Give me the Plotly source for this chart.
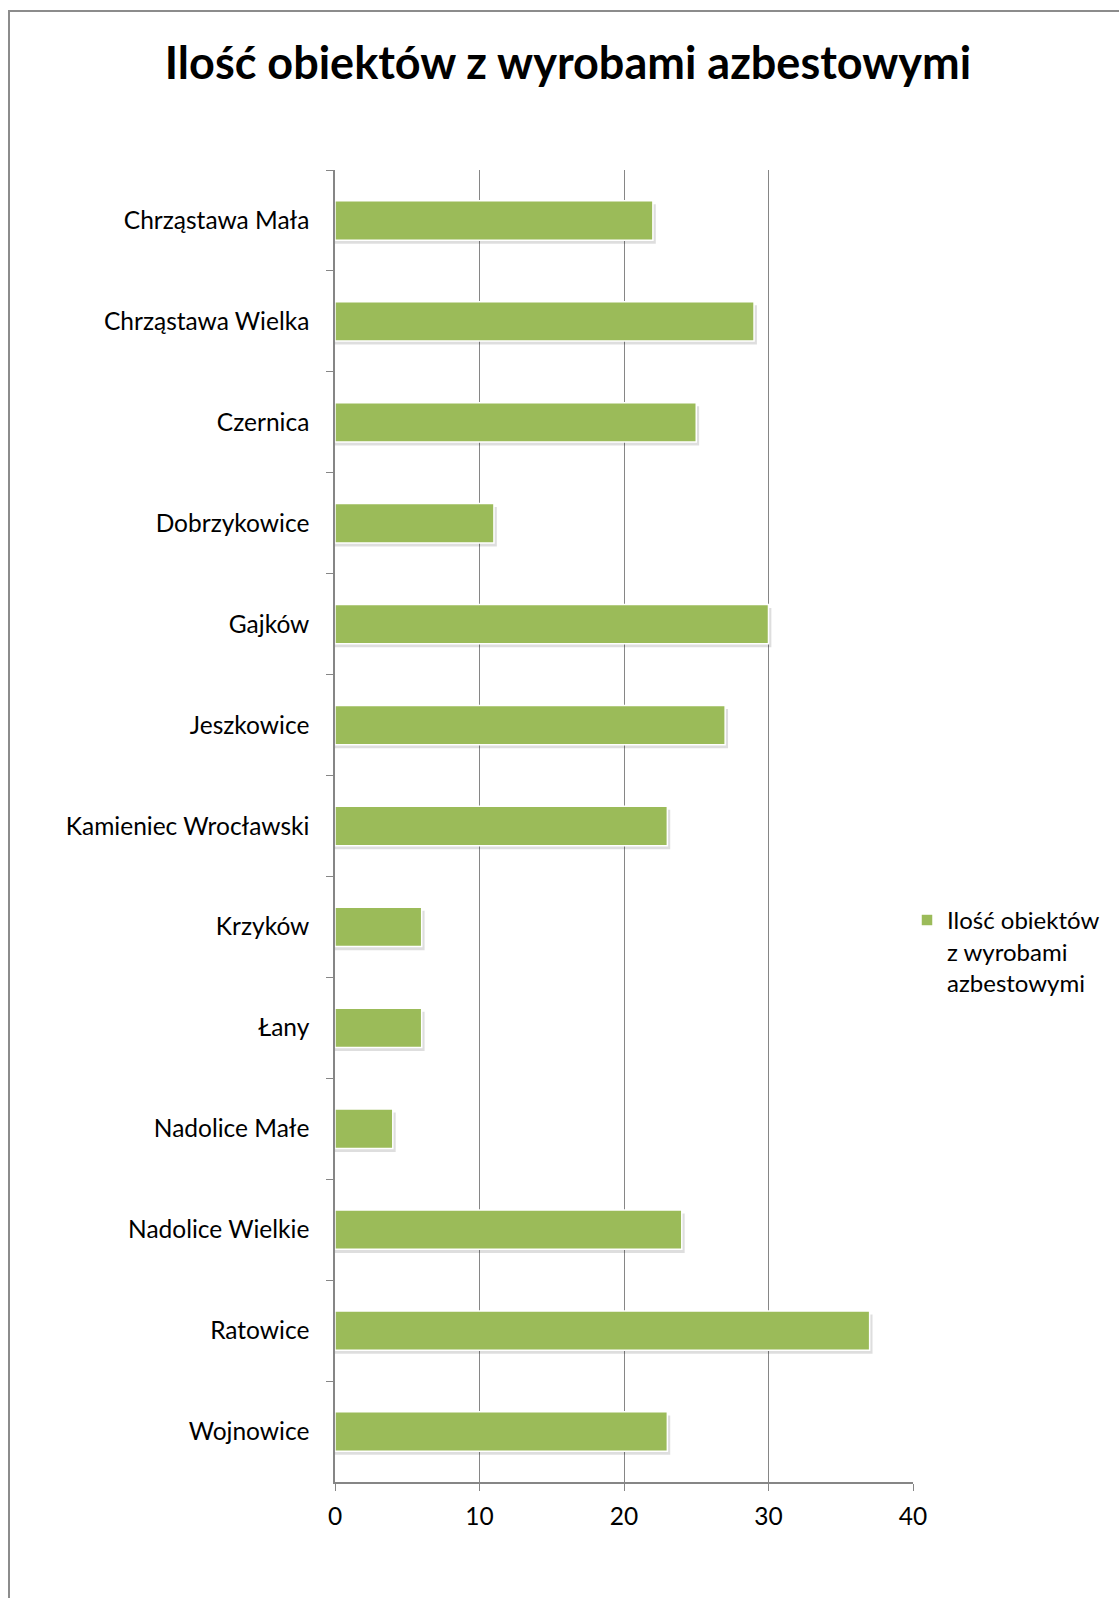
import plotly.graph_objects as go

categories = ["Chrząstawa Mała", "Chrząstawa Wielka", "Czernica", "Dobrzykowice",
              "Gajków", "Jeszkowice", "Kamieniec Wrocławski", "Krzyków", "Łany",
              "Nadolice Małe", "Nadolice Wielkie", "Ratowice", "Wojnowice"]
values = [22, 29, 25, 11, 30, 27, 23, 6, 6, 4, 24, 37, 23]
series_name = "Ilość obiektów<br>z wyrobami<br>azbestowymi"
title_text = "Ilość obiektów z wyrobami azbestowymi"
x_ticks = [0, 10, 20, 30, 40]

W, H = 1119, 1598
L, R, T, B = 335, 913, 170, 1482
pw, ph = R - L, B - T

FONT = "Lato"
GRAY = "#868686"
BAR_W = 0.39
FS = 24.5

fig = go.Figure()
# soft shadow under the bars
fig.add_trace(go.Bar(
    y=categories, x=[v + 0.2 for v in values], orientation="h",
    marker=dict(color="rgba(0,0,0,0.13)", line=dict(width=0)),
    width=BAR_W, offset=-BAR_W / 2 + 0.035, showlegend=False, hoverinfo="skip",
))
fig.add_trace(go.Bar(
    y=categories, x=values, orientation="h", name=series_name,
    marker=dict(color="#9BBB59", line=dict(color="white", width=1.5)),
    width=BAR_W, offset=-BAR_W / 2, showlegend=True,
))

def px(x):
    return (x - L) / pw

def py(y):
    return (B - y) / ph

fig.update_layout(
    width=W, height=H, barmode="overlay",
    margin=dict(l=L, r=W - R, t=T, b=H - B),
    paper_bgcolor="white", plot_bgcolor="white",
    font=dict(family=FONT, size=FS, color="black"),
    title=dict(text="<b>" + title_text + "</b>", x=568 / W, xanchor="center",
               y=1 - 63 / H, yanchor="middle",
               font=dict(family=FONT, size=45, color="black")),
    xaxis=dict(range=[0, 40], tickvals=x_ticks, showgrid=True, gridcolor=GRAY,
               gridwidth=1, showline=True, linecolor=GRAY, linewidth=1.5,
               ticks="outside", ticklen=7, tickcolor=GRAY, zeroline=False,
               tickfont=dict(family=FONT, size=FS), ticklabelstandoff=5),
    yaxis=dict(categoryorder="array", categoryarray=categories, autorange="reversed",
               showline=True, linecolor=GRAY, linewidth=1.5, ticks="outside",
               tickson="boundaries", ticklen=7, tickcolor=GRAY, showgrid=False,
               tickfont=dict(family=FONT, size=FS), ticklabelstandoff=19),
    legend=dict(x=px(907), y=py(898), xanchor="left", yanchor="top",
                valign="top", font=dict(family=FONT, size=24),
                bgcolor="rgba(0,0,0,0)", itemwidth=30, tracegroupgap=0,
                borderwidth=0),
    shapes=[dict(type="rect", xref="paper", yref="paper",
                 x0=px(9), x1=px(W + 2), y0=py(H + 2), y1=py(11),
                 line=dict(color="#8c8c8c", width=2), fillcolor="rgba(0,0,0,0)",
                 layer="below")],
)

fig.write_html("out.html", config={"displayModeBar": False},
               post_script="document.body.style.margin='0';")
